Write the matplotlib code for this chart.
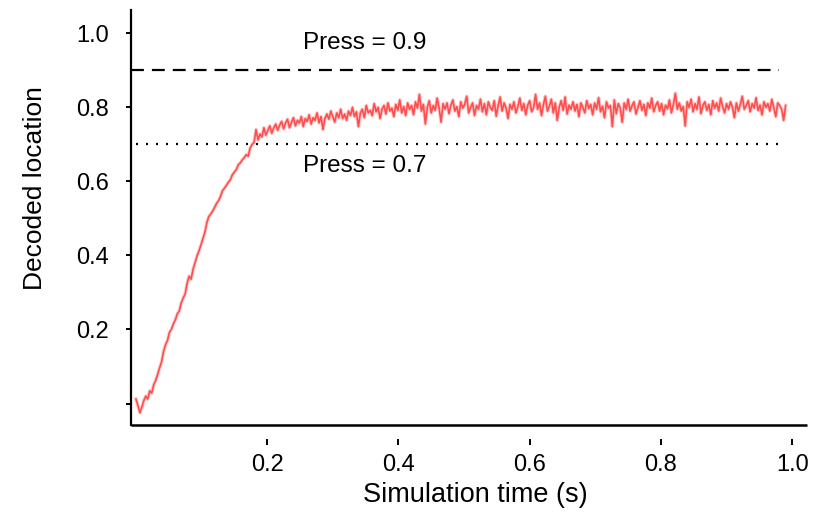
import numpy as np
import matplotlib
matplotlib.use("Agg")
import matplotlib.pyplot as plt

plt.rcParams["font.family"] = ["Liberation Sans", "DejaVu Sans"]

# Decoded location sampled every 3 ms over the simulation
decoded = [
    0.012, -0.005, -0.025, -0.010, 0.008, 0.020, 0.012, 0.034, 0.028, 0.050,
    0.062, 0.078, 0.096, 0.112, 0.140, 0.158, 0.170, 0.192, 0.200, 0.215,
    0.226, 0.242, 0.250, 0.272, 0.285, 0.296, 0.325, 0.344, 0.336, 0.362,
    0.380, 0.398, 0.412, 0.428, 0.445, 0.462, 0.488, 0.505, 0.512, 0.520,
    0.530, 0.541, 0.548, 0.560, 0.575, 0.582, 0.590, 0.598, 0.605, 0.618,
    0.625, 0.632, 0.645, 0.650, 0.658, 0.664, 0.672, 0.668, 0.690, 0.700,
    0.705, 0.740, 0.712, 0.728, 0.720, 0.745, 0.725, 0.738, 0.750, 0.730,
    0.745, 0.755, 0.738, 0.752, 0.762, 0.742, 0.758, 0.768, 0.745, 0.760,
    0.772, 0.750, 0.765, 0.758, 0.775, 0.748, 0.770, 0.762, 0.780, 0.755,
    0.772, 0.765, 0.785, 0.758, 0.775, 0.740, 0.770, 0.782, 0.768, 0.790,
    0.775, 0.760, 0.785, 0.772, 0.795, 0.770, 0.782, 0.765, 0.790, 0.778,
    0.800, 0.775, 0.788, 0.748, 0.785, 0.795, 0.772, 0.805, 0.785, 0.792,
    0.778, 0.810, 0.788, 0.800, 0.770, 0.795, 0.805, 0.782, 0.812, 0.790,
    0.798, 0.775, 0.808, 0.792, 0.820, 0.785, 0.802, 0.778, 0.812, 0.795,
    0.805, 0.780, 0.815, 0.798, 0.835, 0.790, 0.808, 0.755, 0.800, 0.818,
    0.785, 0.805, 0.792, 0.825, 0.798, 0.760, 0.810, 0.795, 0.812, 0.783,
    0.806, 0.820, 0.790, 0.802, 0.775, 0.815, 0.798, 0.808, 0.830, 0.785,
    0.800, 0.812, 0.778, 0.805, 0.795, 0.822, 0.788, 0.810, 0.780, 0.815,
    0.800, 0.792, 0.818, 0.776, 0.805, 0.828, 0.790, 0.812, 0.798, 0.770,
    0.808, 0.795, 0.815, 0.785, 0.802, 0.825, 0.792, 0.810, 0.780, 0.806,
    0.818, 0.788, 0.800, 0.835, 0.795, 0.812, 0.778, 0.808, 0.830, 0.790,
    0.803, 0.822, 0.785, 0.812, 0.765, 0.800, 0.818, 0.792, 0.828, 0.782,
    0.806, 0.795, 0.815, 0.790, 0.808, 0.775, 0.812, 0.800, 0.785, 0.818,
    0.797, 0.808, 0.780, 0.812, 0.795, 0.826, 0.788, 0.803, 0.772, 0.815,
    0.798, 0.805, 0.748, 0.820, 0.783, 0.810, 0.798, 0.760, 0.812, 0.795,
    0.822, 0.790, 0.805, 0.815, 0.782, 0.800, 0.818, 0.792, 0.808, 0.778,
    0.812, 0.798, 0.825, 0.788, 0.805, 0.815, 0.790, 0.810, 0.780, 0.806,
    0.796, 0.820, 0.785, 0.808, 0.838, 0.795, 0.812, 0.790, 0.802, 0.750,
    0.815, 0.800, 0.822, 0.788, 0.810, 0.795, 0.828, 0.783, 0.806, 0.815,
    0.792, 0.808, 0.780, 0.818, 0.798, 0.812, 0.790, 0.825, 0.802, 0.785,
    0.810, 0.795, 0.815, 0.800, 0.772, 0.812, 0.790, 0.808, 0.830, 0.795,
    0.805, 0.818, 0.788, 0.810, 0.798, 0.826, 0.792, 0.806, 0.780, 0.815,
    0.800, 0.810, 0.790, 0.822, 0.798, 0.775, 0.812, 0.805, 0.795, 0.765,
    0.805,
]
t_end = 0.99
time = np.linspace(0.0, t_end, len(decoded))

press_high = 0.9
press_low = 0.7
line_end = 0.98

x_ticks = [0.2, 0.4, 0.6, 0.8, 1.0]
x_ticklabels = ["0.2", "0.4", "0.6", "0.8", "1.0"]
y_ticks = [0.0, 0.2, 0.4, 0.6, 0.8, 1.0]
y_ticklabels = ["", "0.2", "0.4", "0.6", "0.8", "1.0"]

fig = plt.figure(figsize=(8.24, 5.14), dpi=100)
ax = fig.add_axes([0.1586, 0.1732, 0.9797 - 0.1586, 0.9805 - 0.1732])

xmin, xmax = -0.008, 1.023
ymin, ymax = -0.058, 1.063
ax.set_xlim(xmin, xmax)
ax.set_ylim(ymin, ymax)

# soft halo plus core to give the trace its fuzzy look
ax.plot(time, decoded, color="#ff6a6a", lw=2.6, alpha=0.35, zorder=3)
ax.plot(time, decoded, color="#ff3838", lw=1.2, alpha=0.85, zorder=3)

ax.hlines(press_high, xmin, line_end, colors="black", lw=1.6,
          linestyles=(0, (5.8, 3.6)), zorder=2)
ax.hlines(press_low, 0.0, line_end, colors="black", lw=1.6,
          linestyles=(0, (0.9, 3.6)), zorder=2)

ax.text(0.255, 0.973, "Press = 0.9", fontsize=17.5, va="center", ha="left")
ax.text(0.255, 0.641, "Press = 0.7", fontsize=17.5, va="center", ha="left")

for side in ("top", "right"):
    ax.spines[side].set_visible(False)
ax.spines["left"].set_linewidth(1.6)

# bottom axis line stays at the plot edge; the ticks sit a little below it
ax.spines["bottom"].set_position(("outward", 10))
ax.spines["bottom"].set_visible(False)
ax.plot([0, 1], [0, 0], transform=ax.transAxes, color="black", lw=1.8,
        clip_on=False, solid_capstyle="butt", zorder=4)

ax.set_xticks(x_ticks)
ax.set_xticklabels(x_ticklabels)
ax.set_yticks(y_ticks)
ax.set_yticklabels(y_ticklabels)
ax.tick_params(axis="x", direction="out", length=4, width=1.4, pad=7,
               labelsize=17)
ax.tick_params(axis="y", direction="out", length=3.5, width=1.4, pad=12,
               labelsize=17)

ax.set_xlabel("Simulation time (s)", fontsize=19.5)
ax.set_ylabel("Decoded location", fontsize=19)
ax.xaxis.set_label_coords(0.510, -0.168, transform=ax.transAxes)
ax.yaxis.set_label_coords(-0.141, 0.571, transform=ax.transAxes)
ax.xaxis.label.set_va("center")
ax.yaxis.label.set_va("center")

fig.savefig("out.png", dpi=100)
